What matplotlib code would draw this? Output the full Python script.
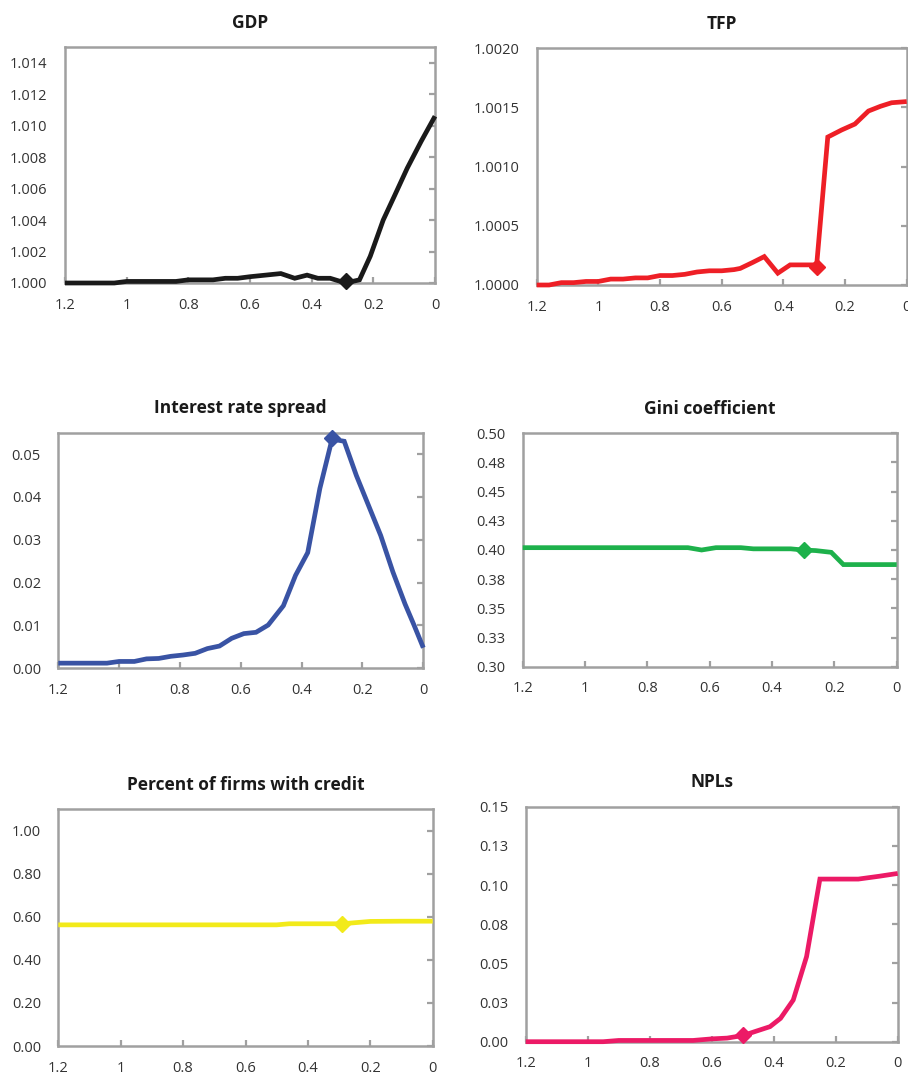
import matplotlib
matplotlib.use("Agg")
import matplotlib.pyplot as plt
from matplotlib.ticker import FixedLocator, FixedFormatter

plt.rcParams['font.family'] = ['Open Sans', 'DejaVu Sans']

# ---------------- data ----------------
gdp_x = [1.2, 1.16, 1.12, 1.08, 1.04, 1.0, 0.96, 0.92, 0.88, 0.84, 0.8, 0.76, 0.72, 0.68, 0.64,
         0.6, 0.55, 0.5, 0.455, 0.415, 0.38, 0.34, 0.29, 0.245, 0.21, 0.168, 0.13, 0.09, 0.045, 0.0]
gdp_y = [1.0000, 1.0000, 1.0000, 1.0000, 1.0000, 1.0001, 1.0001, 1.0001, 1.0001, 1.0001, 1.0002,
         1.0002, 1.0002, 1.0003, 1.0003, 1.0004, 1.0005, 1.0006, 1.0003, 1.0005, 1.0003, 1.0003,
         1.0000, 1.0002, 1.0017, 1.0040, 1.0056, 1.0073, 1.0090, 1.0106]
gdp_mark = (0.29, 1.0001)

tfp_x = [1.2, 1.16, 1.12, 1.08, 1.04, 1.0, 0.96, 0.92, 0.88, 0.84, 0.8, 0.76, 0.72, 0.68, 0.64,
         0.6, 0.56, 0.54, 0.5, 0.462, 0.418, 0.378, 0.34, 0.292, 0.256, 0.211, 0.168, 0.124, 0.085,
         0.049, 0.0]
tfp_y = [1.00000, 1.00000, 1.00002, 1.00002, 1.00003, 1.00003, 1.00005, 1.00005, 1.00006, 1.00006,
         1.00008, 1.00008, 1.00009, 1.00011, 1.00012, 1.00012, 1.00013, 1.00014, 1.00019, 1.00024,
         1.00010, 1.00017, 1.00017, 1.00017, 1.00125, 1.00131, 1.00136, 1.00147, 1.00151, 1.00154,
         1.00155]
tfp_mark = (0.29, 1.00015)

irs_x = [1.2, 1.16, 1.12, 1.08, 1.04, 1.0, 0.95, 0.91, 0.87, 0.83, 0.79, 0.75, 0.71, 0.67, 0.63,
         0.59, 0.55, 0.51, 0.46, 0.42, 0.38, 0.34, 0.30, 0.26, 0.22, 0.18, 0.14, 0.10, 0.06, 0.03, 0.0]
irs_y = [0.0012, 0.0012, 0.0012, 0.0012, 0.0012, 0.0016, 0.0016, 0.0022, 0.0023, 0.0028, 0.0031,
         0.0035, 0.0046, 0.0052, 0.0070, 0.0081, 0.0084, 0.0101, 0.0146, 0.0217, 0.0270, 0.0420,
         0.0535, 0.0530, 0.0450, 0.0380, 0.0310, 0.0225, 0.0150, 0.0100, 0.0048]
irs_mark = (0.30, 0.0537)

gini_x = [1.2, 1.0, 0.8, 0.67, 0.626, 0.58, 0.5, 0.46, 0.4, 0.34, 0.30, 0.26, 0.21, 0.171, 0.12, 0.0]
gini_y = [0.402, 0.402, 0.402, 0.402, 0.400, 0.402, 0.402, 0.401, 0.401, 0.401, 0.400, 0.3995,
          0.398, 0.3875, 0.3875, 0.3875]
gini_mark = (0.296, 0.400)

cred_x = [1.2, 1.0, 0.8, 0.6, 0.5, 0.46, 0.4, 0.29, 0.2, 0.1, 0.0]
cred_y = [0.563, 0.563, 0.563, 0.563, 0.563, 0.568, 0.568, 0.568, 0.579, 0.580, 0.580]
cred_mark = (0.29, 0.568)

npl_x = [1.2, 1.1, 1.0, 0.95, 0.9, 0.8, 0.7, 0.66, 0.6, 0.55, 0.498, 0.46, 0.412, 0.378, 0.337,
         0.294, 0.251, 0.2, 0.127, 0.06, 0.0]
npl_y = [0.0000, 0.0000, 0.0000, 0.0000, 0.0008, 0.0008, 0.0008, 0.0008, 0.0018, 0.0023, 0.0040,
         0.0065, 0.0096, 0.0149, 0.0266, 0.0543, 0.1038, 0.1038, 0.1038, 0.1056, 0.1074]
npl_mark = (0.498, 0.0040)

x_ticks = [1.2, 1.0, 0.8, 0.6, 0.4, 0.2, 0.0]
x_labels = ['1.2', '1', '0.8', '0.6', '0.4', '0.2', '0']

panels = [
    dict(title='GDP', x=gdp_x, y=gdp_y, mark=gdp_mark, color='#1a1a1a',
         ylim=(1.0, 1.015),
         yticks=[1.0, 1.002, 1.004, 1.006, 1.008, 1.010, 1.012, 1.014],
         ylabels=['1.000', '1.002', '1.004', '1.006', '1.008', '1.010', '1.012', '1.014'],
         box=(65, 435, 47, 283)),
    dict(title='TFP', x=tfp_x, y=tfp_y, mark=tfp_mark, color='#EE1F26',
         ylim=(1.0, 1.002),
         yticks=[1.0, 1.0005, 1.001, 1.0015, 1.002],
         ylabels=['1.0000', '1.0005', '1.0010', '1.0015', '1.0020'],
         box=(536.7, 906.7, 48.3, 285)),
    dict(title='Interest rate spread', x=irs_x, y=irs_y, mark=irs_mark, color='#3953A4',
         ylim=(0.0, 0.055),
         yticks=[0.0, 0.01, 0.02, 0.03, 0.04, 0.05],
         ylabels=['0.00', '0.01', '0.02', '0.03', '0.04', '0.05'],
         box=(58.3, 423.3, 432.7, 668.3)),
    dict(title='Gini coefficient', x=gini_x, y=gini_y, mark=gini_mark, color='#1DB14B',
         ylim=(0.30, 0.50),
         yticks=[0.30, 0.325, 0.35, 0.375, 0.40, 0.425, 0.45, 0.475, 0.50],
         ylabels=['0.30', '0.33', '0.35', '0.38', '0.40', '0.43', '0.45', '0.48', '0.50'],
         box=(522.7, 896.7, 433.3, 666.7)),
    dict(title='Percent of firms with credit', x=cred_x, y=cred_y, mark=cred_mark, color='#F2EA1A',
         ylim=(0.0, 1.1),
         yticks=[0.0, 0.2, 0.4, 0.6, 0.8, 1.0],
         ylabels=['0.00', '0.20', '0.40', '0.60', '0.80', '1.00'],
         box=(58.3, 432.7, 809.3, 1046)),
    dict(title='NPLs', x=npl_x, y=npl_y, mark=npl_mark, color='#EC1A66',
         ylim=(0.0, 0.15),
         yticks=[0.0, 0.025, 0.05, 0.075, 0.10, 0.125, 0.15],
         ylabels=['0.00', '0.03', '0.05', '0.08', '0.10', '0.13', '0.15'],
         box=(525.7, 897.7, 806.7, 1041.7)),
]

W, H = 908, 1075
fig = plt.figure(figsize=(W / 100, H / 100), dpi=100)
spine_c = '#A0A0A0'
text_c = '#333333'

for p in panels:
    l, r, t, b = p['box']
    ax = fig.add_axes([l / W, 1 - b / H, (r - l) / W, (b - t) / H])
    ax.plot(p['x'], p['y'], color=p['color'], lw=3.4, solid_joinstyle='miter',
            solid_capstyle='butt', clip_on=False, zorder=3)
    ax.plot([p['mark'][0]], [p['mark'][1]], marker='D', ms=8, color=p['color'],
            mec=p['color'], clip_on=False, zorder=4)
    ax.set_xlim(1.2, 0.0)
    ax.set_ylim(*p['ylim'])
    ax.xaxis.set_major_locator(FixedLocator(x_ticks))
    ax.xaxis.set_major_formatter(FixedFormatter(x_labels))
    ax.yaxis.set_major_locator(FixedLocator(p['yticks']))
    ax.yaxis.set_major_formatter(FixedFormatter(p['ylabels']))
    ax.tick_params(axis='x', direction='in', length=4, width=1.6, color=spine_c,
                   labelsize=10.5, labelcolor=text_c, pad=10.5)
    ax.tick_params(axis='y', direction='in', left=False, right=True, labelleft=True,
                   length=4, width=1.6, color=spine_c, labelsize=10.5, labelcolor=text_c, pad=12.5)
    for s in ax.spines.values():
        s.set_color(spine_c)
        s.set_linewidth(1.8)
    ax.set_title(p['title'], fontsize=12.5, fontweight='bold', color='#1a1a1a', pad=14)

fig.savefig('out.png', dpi=100)
